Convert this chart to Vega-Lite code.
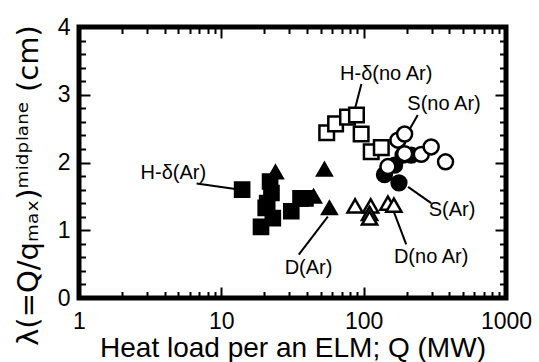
{
  "$schema": "https://vega.github.io/schema/vega-lite/v6.json",
  "width": 427,
  "height": 271,
  "autosize": "none",
  "padding": {"left": 79, "top": 27, "right": 33, "bottom": 64},
  "background": "white",
  "config": {
    "view": {"stroke": "black", "strokeWidth": 5},
    "font": "Liberation Sans",
    "axis": {
      "domain": false,
      "grid": false,
      "zindex": 1,
      "labelFont": "Liberation Sans",
      "labelFontSize": 23,
      "labelColor": "black",
      "titleFont": "Liberation Sans, DejaVu Sans",
      "titleFontWeight": "normal",
      "titleColor": "black",
      "tickColor": "black",
      "tickWidth": 2,
      "tickOpacity": 1,
      "labelOverlap": false,
      "labelFlush": false,
      "labelBound": false
    }
  },
  "datasets": {
    "points": [
      {"series": "HdAr", "q": 14, "lam": 1.60},
      {"series": "HdAr", "q": 22, "lam": 1.72},
      {"series": "HdAr", "q": 22.5, "lam": 1.55},
      {"series": "HdAr", "q": 21, "lam": 1.40},
      {"series": "HdAr", "q": 20.5, "lam": 1.33},
      {"series": "HdAr", "q": 23, "lam": 1.18},
      {"series": "HdAr", "q": 19, "lam": 1.05},
      {"series": "HdAr", "q": 31, "lam": 1.28},
      {"series": "HdAr", "q": 36, "lam": 1.47},
      {"series": "HdAr", "q": 39, "lam": 1.47},
      {"series": "DAr", "q": 24, "lam": 1.86},
      {"series": "DAr", "q": 44.5, "lam": 1.50},
      {"series": "DAr", "q": 53, "lam": 1.90},
      {"series": "DAr", "q": 57.5, "lam": 1.33},
      {"series": "HdNoAr", "q": 55, "lam": 2.44},
      {"series": "HdNoAr", "q": 63.5, "lam": 2.57},
      {"series": "HdNoAr", "q": 77, "lam": 2.67},
      {"series": "HdNoAr", "q": 89, "lam": 2.70},
      {"series": "HdNoAr", "q": 96, "lam": 2.42},
      {"series": "HdNoAr", "q": 113, "lam": 2.16},
      {"series": "HdNoAr", "q": 133, "lam": 2.22},
      {"series": "SAr", "q": 140, "lam": 1.82},
      {"series": "SAr", "q": 165, "lam": 1.96},
      {"series": "SAr", "q": 177, "lam": 1.70},
      {"series": "SAr", "q": 189, "lam": 2.11},
      {"series": "SAr", "q": 216, "lam": 2.11},
      {"series": "SNoAr", "q": 148, "lam": 1.94},
      {"series": "SNoAr", "q": 174, "lam": 2.33},
      {"series": "SNoAr", "q": 194, "lam": 2.42},
      {"series": "SNoAr", "q": 194, "lam": 2.13},
      {"series": "SNoAr", "q": 254, "lam": 2.12},
      {"series": "SNoAr", "q": 298, "lam": 2.23},
      {"series": "SNoAr", "q": 376, "lam": 2.01},
      {"series": "DNoAr", "q": 87, "lam": 1.36},
      {"series": "DNoAr", "q": 112, "lam": 1.36},
      {"series": "DNoAr", "q": 110, "lam": 1.25},
      {"series": "DNoAr", "q": 110, "lam": 1.18},
      {"series": "DNoAr", "q": 148, "lam": 1.40},
      {"series": "DNoAr", "q": 163, "lam": 1.37}
    ],
    "leaders": [
      {"q1": 6.7, "l1": 1.69, "q2": 13.3, "l2": 1.60},
      {"q1": 96.4, "l1": 3.16, "q2": 86.5, "l2": 2.78},
      {"q1": 240, "l1": 2.70, "q2": 205, "l2": 2.45},
      {"q1": 205, "l1": 1.64, "q2": 298, "l2": 1.40},
      {"q1": 161, "l1": 1.30, "q2": 199, "l2": 0.79},
      {"q1": 35, "l1": 0.64, "q2": 56, "l2": 1.20}
    ],
    "labels": [
      {"text": "H-δ(Ar)", "q": 4.6, "lam": 1.84},
      {"text": "H-δ(no Ar)", "q": 144, "lam": 3.31},
      {"text": "S(no Ar)", "q": 367, "lam": 2.87},
      {"text": "S(Ar)", "q": 418, "lam": 1.30},
      {"text": "D(no Ar)", "q": 298, "lam": 0.61},
      {"text": "D(Ar)", "q": 41, "lam": 0.45}
    ]
  },
  "layer": [
    {
      "data": {"name": "leaders"},
      "mark": {"type": "rule", "color": "black", "strokeWidth": 2},
      "encoding": {
        "x": {
          "field": "q1", "type": "quantitative",
          "scale": {"type": "log", "domain": [1, 1000], "nice": false},
          "axis": {
            "orient": "top",
            "title": null,
            "labels": false,
            "values": [1,2,3,4,5,6,7,8,9,10,20,30,40,50,60,70,80,90,100,200,300,400,500,600,700,800,900,1000],
            "tickSize": {"condition": {"test": "datum.value==1||datum.value==10||datum.value==100||datum.value==1000", "value": -11}, "value": -6.5}
          }
        },
        "y": {
          "field": "l1", "type": "quantitative",
          "scale": {"domain": [0, 4], "nice": false, "zero": false},
          "axis": {
            "orient": "right",
            "title": null,
            "labels": false,
            "values": [0,0.2,0.4,0.6,0.8,1,1.2,1.4,1.6,1.8,2,2.2,2.4,2.6,2.8,3,3.2,3.4,3.6,3.8,4],
            "tickSize": {"condition": {"test": "datum.value==0||datum.value==1||datum.value==2||datum.value==3||datum.value==4", "value": -11}, "value": -6.5}
          }
        },
        "x2": {"field": "q2"},
        "y2": {"field": "l2"}
      }
    },
    {
      "data": {"name": "points"},
      "mark": {"type": "point", "stroke": "black", "strokeWidth": 2.5, "opacity": 1, "fillOpacity": 1, "strokeOpacity": 1},
      "encoding": {
        "x": {
          "field": "q", "type": "quantitative",
          "scale": {"type": "log", "domain": [1, 1000], "nice": false},
          "axis": {
            "orient": "bottom",
            "title": "Heat load per an ELM; Q (MW)",
            "titleFontSize": 28,
            "titlePadding": -3,
            "values": [1,2,3,4,5,6,7,8,9,10,20,30,40,50,60,70,80,90,100,200,300,400,500,600,700,800,900,1000],
            "labelExpr": "(datum.value==1||datum.value==10||datum.value==100||datum.value==1000) ? format(datum.value, 'd') : ''",
            "tickSize": {"condition": {"test": "datum.value==1||datum.value==10||datum.value==100||datum.value==1000", "value": -11}, "value": -6.5},
            "labelPadding": 23
          }
        },
        "y": {
          "field": "lam", "type": "quantitative",
          "scale": {"domain": [0, 4], "nice": false, "zero": false},
          "axis": {
            "orient": "left",
            "title": "λ(=Q/qₘₐₓ)ᵐⁱᵈᵖˡᵃⁿᵉ (cm)",
            "titleFont": "DejaVu Sans",
            "titleFontSize": 29,
            "titlePadding": 14,
            "titleY": 158,
            "values": [0,0.2,0.4,0.6,0.8,1,1.2,1.4,1.6,1.8,2,2.2,2.4,2.6,2.8,3,3.2,3.4,3.6,3.8,4],
            "labelExpr": "(datum.value==0||datum.value==1||datum.value==2||datum.value==3||datum.value==4) ? format(datum.value, 'd') : ''",
            "tickSize": {"condition": {"test": "datum.value==0||datum.value==1||datum.value==2||datum.value==3||datum.value==4", "value": -11}, "value": -6.5},
            "labelPadding": 20
          }
        },
        "shape": {
          "field": "series", "type": "nominal", "legend": null,
          "scale": {"domain": ["HdAr","DAr","HdNoAr","SAr","SNoAr","DNoAr"], "range": ["square","triangle-up","square","circle","circle","triangle-up"]}
        },
        "fill": {
          "field": "series", "type": "nominal", "legend": null,
          "scale": {"domain": ["HdAr","DAr","HdNoAr","SAr","SNoAr","DNoAr"], "range": ["black","black","white","black","white","white"]}
        },
        "size": {
          "field": "series", "type": "ordinal", "legend": null,
          "scale": {"domain": ["HdAr","DAr","HdNoAr","SAr","SNoAr","DNoAr"], "range": [200,230,200,150,150,230]}
        }
      }
    },
    {
      "data": {"name": "labels"},
      "mark": {"type": "text", "font": "Liberation Sans", "fontSize": 20, "color": "black", "align": "center", "baseline": "middle"},
      "encoding": {
        "x": {"field": "q", "type": "quantitative", "scale": {"type": "log", "domain": [1, 1000], "nice": false}, "axis": null},
        "y": {"field": "lam", "type": "quantitative", "scale": {"domain": [0, 4], "nice": false, "zero": false}, "axis": null},
        "text": {"field": "text"}
      }
    }
  ],
  "resolve": {"axis": {"x": "independent", "y": "independent"}}
}
